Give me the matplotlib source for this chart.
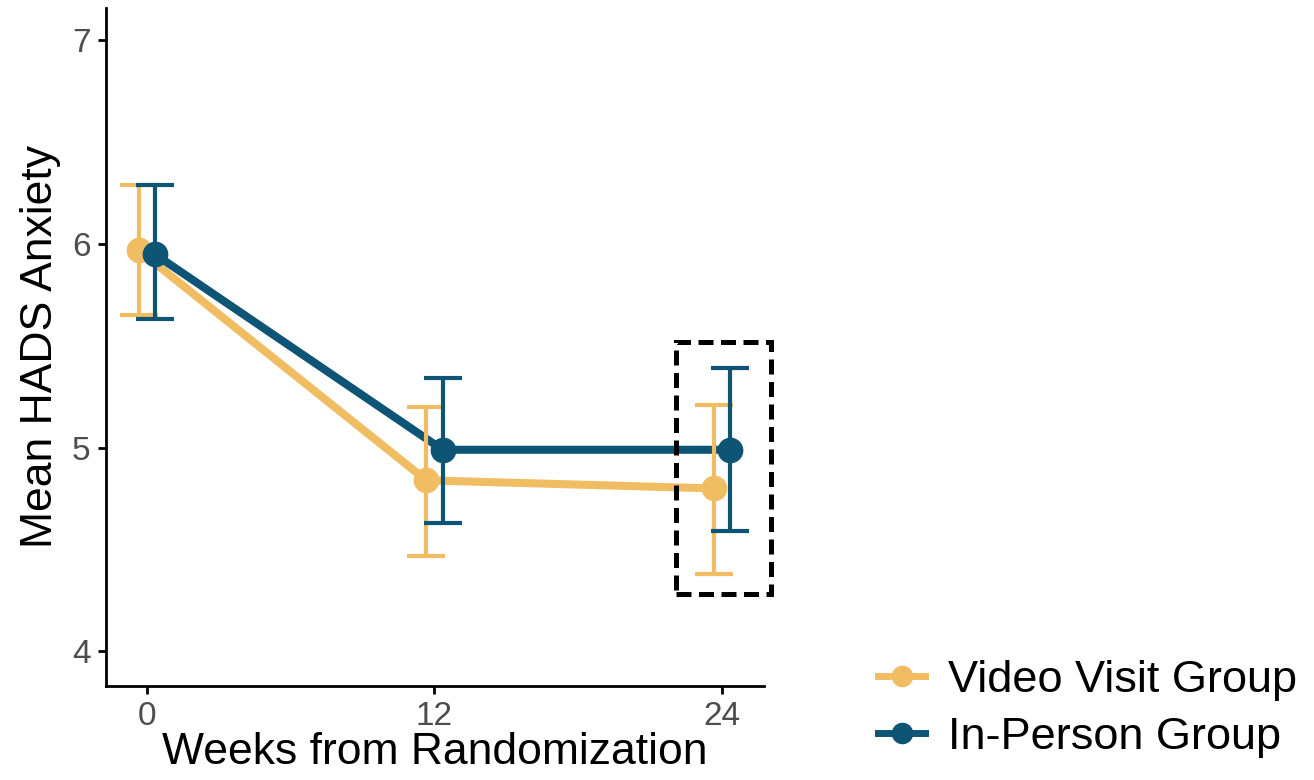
import matplotlib
matplotlib.use("Agg")
import matplotlib.pyplot as plt
from matplotlib.lines import Line2D
from matplotlib.patches import Rectangle
import numpy as np

weeks = [0, 12, 24]
groups = ["Video Visit Group", "In-Person Group"]
video_mean = [5.97, 4.84, 4.80]
video_low = [5.65, 4.47, 4.38]
video_high = [6.29, 5.20, 5.21]
inperson_mean = [5.95, 4.99, 4.99]
inperson_low = [5.63, 4.63, 4.59]
inperson_high = [6.29, 5.34, 5.39]
colors = ["#F1BD63", "#0E5475"]
dodge = [-0.34, 0.34]

plt.rcParams['font.family'] = ['Liberation Sans', 'DejaVu Sans']

fig = plt.figure(figsize=(13.14, 7.8), dpi=100)
ax = fig.add_axes([0.0807, 0.1205, 0.5006, 0.8695])

series = [(video_mean, video_low, video_high), (inperson_mean, inperson_low, inperson_high)]
for i, (m, lo, hi) in enumerate(series):
    x = np.array(weeks, dtype=float) + dodge[i]
    m = np.array(m); lo = np.array(lo); hi = np.array(hi)
    ax.plot(x, m, color=colors[i], lw=5.8, zorder=2 + i, solid_capstyle='butt')
    ax.errorbar(x, m, yerr=[m - lo, hi - m], fmt='none', ecolor=colors[i],
                elinewidth=3, capsize=13.5, capthick=3, zorder=4 + i)
    ax.plot(x, m, 'o', color=colors[i], ms=17.5, zorder=6 + i)

ax.set_xlim(-1.7, 25.74)
ax.set_ylim(3.83, 7.16)
ax.set_xticks(weeks)
ax.set_yticks([4, 5, 6, 7])
ax.tick_params(axis='both', labelsize=24, labelcolor='#4D4D4D', length=6, width=2,
               color='black', pad=5)
for s in ['top', 'right']:
    ax.spines[s].set_visible(False)
for s in ['left', 'bottom']:
    ax.spines[s].set_linewidth(2)
ax.set_xlabel("Weeks from Randomization", fontsize=32, labelpad=0)
ax.set_ylabel("Mean HADS Anxiety", fontsize=32, labelpad=8)

rect = Rectangle((22.08, 4.28), 3.96, 1.24, fill=False, edgecolor='black', lw=3.6,
                 linestyle=(0, (3, 1.5)), clip_on=False, zorder=10)
ax.add_patch(rect)

handles = [Line2D([0], [0], color=c, lw=5, marker='o', ms=14.5) for c in colors]
fig.legend(handles, groups, loc='lower left', bbox_to_anchor=(878 / 1314, 0.028),
           frameon=False, fontsize=32.5, handlelength=1.05, handletextpad=0.5,
           labelspacing=0.36, borderaxespad=0, borderpad=0)

fig.savefig("out.png", dpi=100)
